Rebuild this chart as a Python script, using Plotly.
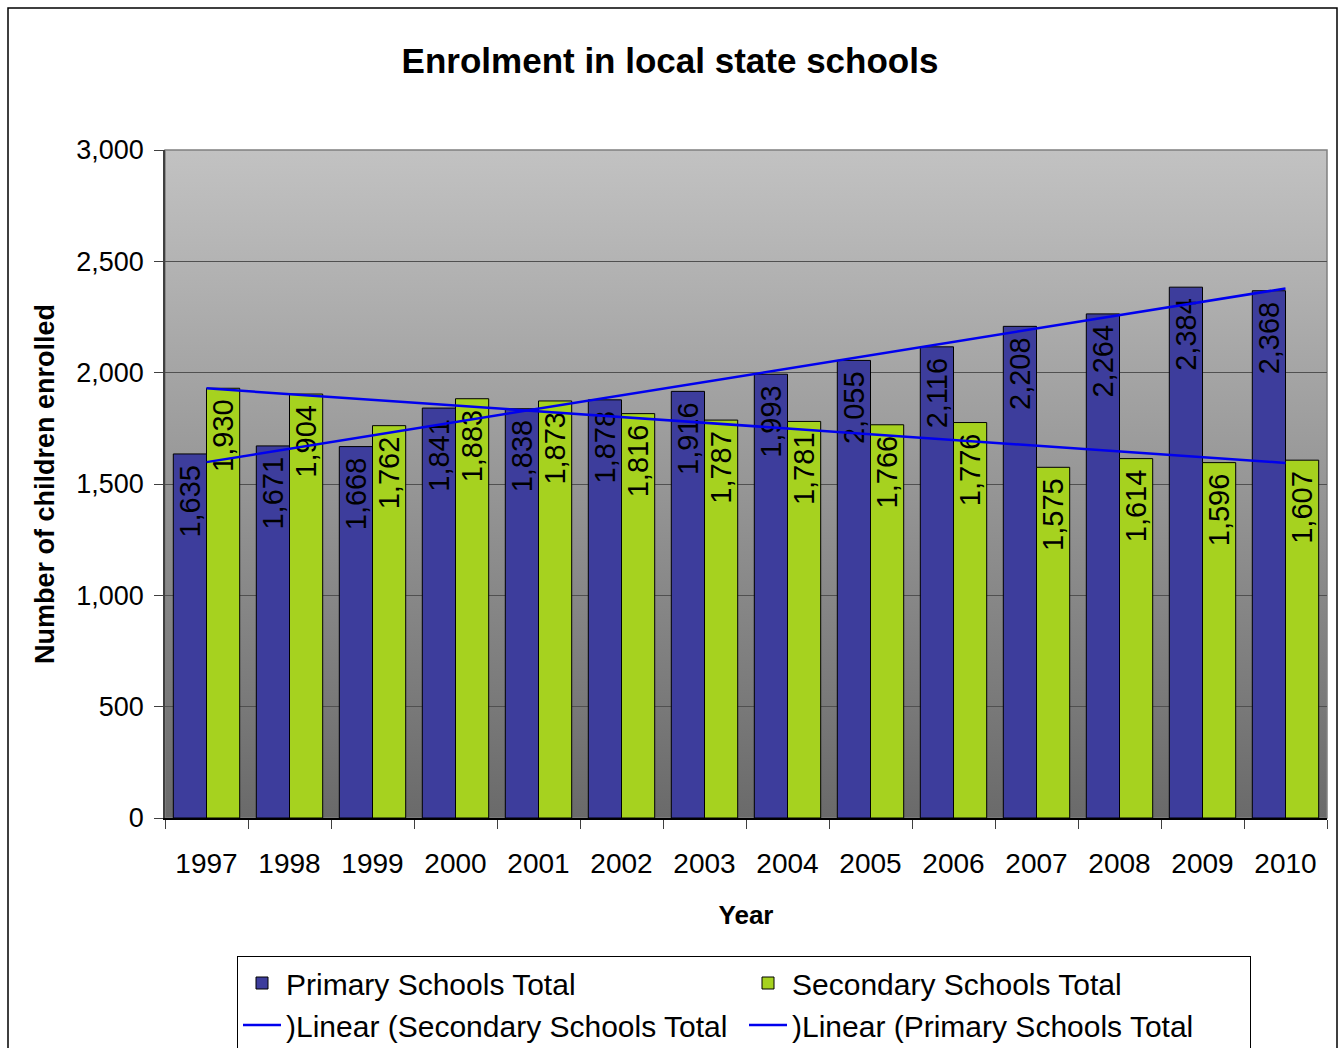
import base64

import numpy as np
import plotly.graph_objects as go

# Enrolment figures by school year
years = ["1997", "1998", "1999", "2000", "2001", "2002", "2003",
         "2004", "2005", "2006", "2007", "2008", "2009", "2010"]
primary_total = [1635, 1671, 1668, 1841, 1838, 1878, 1916,
                 1993, 2055, 2116, 2208, 2264, 2384, 2368]
secondary_total = [1930, 1904, 1762, 1883, 1873, 1816, 1787,
                   1781, 1766, 1776, 1575, 1614, 1596, 1607]

y_ticks = [0, 500, 1000, 1500, 2000, 2500, 3000]

FONT = "Arial, 'Liberation Sans', sans-serif"
PRIMARY_COLOR = "#3d3d9c"
SECONDARY_COLOR = "#a6d21f"
TREND_COLOR = "#0000ee"


def linear_trend(values):
    """Least-squares straight line through the series (as a spreadsheet trendline)."""
    idx = np.arange(1, len(values) + 1)
    slope, intercept = np.polyfit(idx, values, 1)
    return (slope * idx + intercept).tolist()


primary_trend = linear_trend(primary_total)
secondary_trend = linear_trend(secondary_total)

# Plot-area margins in pixels
W, H = 1340, 1048
ML, MR, MT, MB = 165, 13, 150, 230
PW, PH = W - ML - MR, H - MT - MB


def px_x(v):
    return (v - ML) / PW


def px_y(v):
    return (H - MB - v) / PH


label_tpl = "%{y:,}\u00a0"

fig = go.Figure()

fig.add_trace(go.Bar(
    x=years, y=primary_total, name="Primary Schools Total",
    marker=dict(color=PRIMARY_COLOR, line=dict(color="#000000", width=1)),
    texttemplate=label_tpl, textposition="inside", insidetextanchor="end",
    textangle=-90, constraintext="none",
    textfont=dict(family=FONT, size=29, color="#000000"),
))
fig.add_trace(go.Bar(
    x=years, y=secondary_total, name="Secondary Schools Total",
    marker=dict(color=SECONDARY_COLOR, line=dict(color="#000000", width=1)),
    texttemplate=label_tpl, textposition="inside", insidetextanchor="end",
    textangle=-90, constraintext="none",
    textfont=dict(family=FONT, size=29, color="#000000"),
))
fig.add_trace(go.Scatter(
    x=years, y=secondary_trend, mode="lines",
    name=")Linear (Secondary Schools Total",
    line=dict(color=TREND_COLOR, width=2.5),
))
fig.add_trace(go.Scatter(
    x=years, y=primary_trend, mode="lines",
    name=")Linear (Primary Schools Total",
    line=dict(color=TREND_COLOR, width=2.5),
))

# Grey vertical gradient behind the plot area
grad_svg = (
    '<svg xmlns="http://www.w3.org/2000/svg" width="10" height="100" '
    'viewBox="0 0 10 100" preserveAspectRatio="none">'
    '<defs><linearGradient id="g" x1="0" y1="0" x2="0" y2="1">'
    '<stop offset="0" stop-color="#c2c2c2"/>'
    '<stop offset="1" stop-color="#6a6a6a"/>'
    '</linearGradient></defs>'
    '<rect width="10" height="100" fill="url(#g)"/></svg>'
)
grad_uri = "data:image/svg+xml;base64," + base64.b64encode(grad_svg.encode()).decode()

fig.update_layout(
    width=W, height=H,
    margin=dict(l=ML, r=MR, t=MT, b=MB, autoexpand=False),
    paper_bgcolor="#ffffff",
    plot_bgcolor="#a0a0a0",
    barmode="group", bargap=0.2, bargroupgap=0,
    font=dict(family=FONT, color="#000000"),
    title=dict(
        text="<b>Enrolment in local state schools</b>",
        x=0.5, xref="container", xanchor="center",
        y=1 - 61 / H, yref="container", yanchor="middle",
        font=dict(family=FONT, size=35, color="#000000"),
    ),
    showlegend=True,
    legend=dict(
        orientation="h",
        x=px_x(237), xanchor="left",
        y=px_y(956), yanchor="top",
        itemwidth=38,
        entrywidth=453, entrywidthmode="pixels",
        font=dict(family=FONT, size=30, color="#000000"),
        bgcolor="#ffffff", bordercolor="#000000", borderwidth=1,
        traceorder="normal",
    ),
    images=[dict(
        source=grad_uri, xref="paper", yref="paper",
        x=0, y=1, sizex=1, sizey=1, sizing="stretch",
        xanchor="left", yanchor="top", layer="below",
    )],
    shapes=[
        # plot-area frame
        dict(type="rect", xref="paper", yref="paper", x0=0, x1=1, y0=0, y1=1,
             line=dict(color="#808080", width=1.5), layer="below"),
        # outer chart frame
        dict(type="rect", xref="paper", yref="paper",
             x0=px_x(8), x1=px_x(1337), y0=px_y(1070), y1=px_y(8),
             line=dict(color="#000000", width=1.5), fillcolor="rgba(0,0,0,0)"),
    ],
)

fig.update_xaxes(
    type="category",
    showgrid=False,
    showline=True, linecolor="#000000", linewidth=1.5,
    ticks="outside", ticklen=9, tickcolor="#404040", tickwidth=1,
    tickson="boundaries",
    tickfont=dict(family=FONT, size=28, color="#000000"),
    ticklabelstandoff=20,
    title=dict(text="<b>Year</b>", font=dict(family=FONT, size=26, color="#000000"),
               standoff=27),
)
fig.update_yaxes(
    range=[0, 3000],
    tickvals=y_ticks, tickformat=",",
    showgrid=True, gridcolor="#505050", gridwidth=1,
    zeroline=False,
    showline=True, linecolor="#404040", linewidth=1.5,
    ticks="outside", ticklen=9, tickcolor="#404040", tickwidth=1,
    tickfont=dict(family=FONT, size=27, color="#000000"),
    ticklabelstandoff=5,
    title=dict(text="<b>Number of children enrolled</b>",
               font=dict(family=FONT, size=27, color="#000000"), standoff=14),
)

fig.write_html("out.html")
